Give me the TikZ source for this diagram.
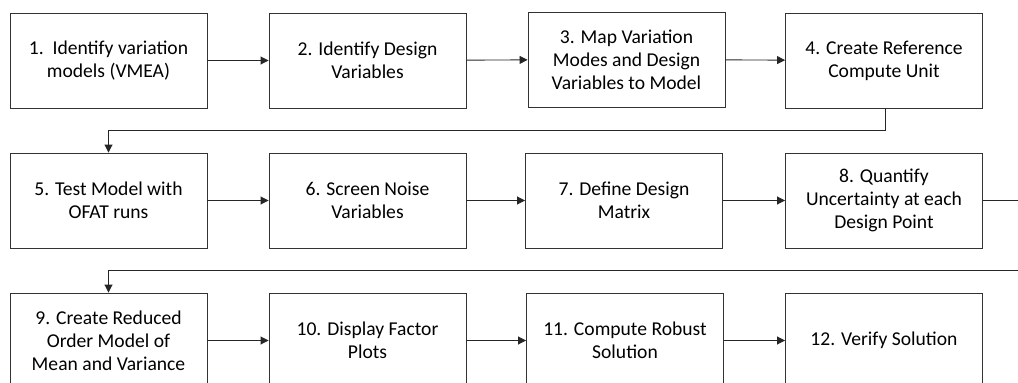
\documentclass[tikz,border=0pt]{standalone}
\usepackage{fontspec}
\setmainfont{Carlito}
\usetikzlibrary{arrows.meta}
\begin{document}
\begin{tikzpicture}[x=1pt,y=-1pt,
  box/.style={draw=black!80, line width=0.9pt, minimum width=197pt, minimum height=95pt, inner sep=0pt, align=center, font=\fontsize{19.6}{23}\selectfont},
  conn/.style={draw=black!85, line width=0.9pt, -{Triangle[length=8pt,width=8pt]}}]
\useasboundingbox (0,0) rectangle (1018,383);
\clip (0,0) rectangle (1018,383);
\node[box] (b1) at (108.5,60.5) {1.\ \ Identify variation\\models (VMEA)};
\node[box] (b2) at (367.5,60.5) {2. Identify Design\\Variables};
\node[box] (b3) at (626.5,59.5) {3. Map Variation\\Modes and Design\\Variables to Model};
\node[box] (b4) at (884,60.5) {4. Create Reference\\Compute Unit};
\node[box] (b5) at (108.5,200.5) {5. Test Model with\\OFAT runs};
\node[box] (b6) at (367.5,200.5) {6. Screen Noise\\Variables};
\node[box] (b7) at (624,200.5) {7. Define Design\\Matrix};
\node[box] (b8) at (884,200.5) {8. Quantify\\Uncertainty at each\\Design Point};
\node[box] (b9) at (108.5,340.5) {9. Create Reduced\\Order Model of\\Mean and Variance};
\node[box] (b10) at (367.5,340.5) {10. Display Factor\\Plots};
\node[box] (b11) at (625,340.5) {11. Compute Robust\\Solution};
\node[box] (b12) at (884,340.5) {12. Verify Solution};
\coordinate (t1) at (885,130);
\coordinate (r1) at (1030,200.5);
\coordinate (r2) at (1030,270);
\draw[conn] (b1) -- (b2);
\draw[conn] (b2) -- (b3);
\draw[conn] (b3) -- (b4);
\draw[conn] (b4.south -| t1) -- (t1) -| (b5.north);
\draw[conn] (b5) -- (b6);
\draw[conn] (b6) -- (b7);
\draw[conn] (b7) -- (b8);
\draw[conn] (b8.east) -- (r1) -- (r2) -| (b9.north);
\draw[conn] (b9) -- (b10);
\draw[conn] (b10) -- (b11);
\draw[conn] (b11) -- (b12);
\end{tikzpicture}
\end{document}
